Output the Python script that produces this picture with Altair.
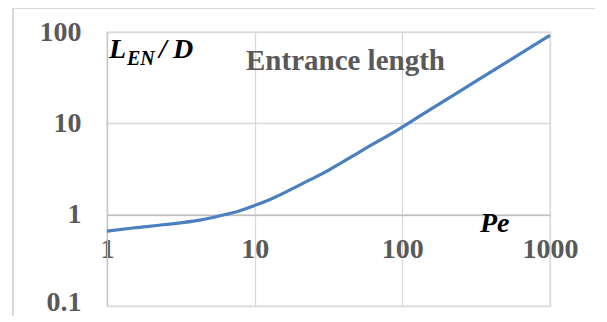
import altair as alt
import pandas as pd

# Data
pe_values = [1, 1.5, 2.5, 4.25, 5.8, 7.1, 9.7, 12.6, 21.2, 32, 54, 100, 130, 300, 1000]
len_values = [0.66, 0.715, 0.78, 0.87, 0.97, 1.05, 1.24, 1.46, 2.2, 3.1, 5.1, 9.1, 11.9, 27.5, 92]
x_ticks = [1, 10, 100, 1000]
y_ticks = [0.1, 1, 10, 100]

W, H = 443, 274
FONT = "Liberation Serif"
GRAY = "#595959"

df = pd.DataFrame({"Pe": pe_values, "L": len_values})
one = pd.DataFrame({"k": [0]})

x_enc = alt.X(
    "Pe:Q",
    scale=alt.Scale(type="log", domain=[1, 1000], nice=False),
    axis=alt.Axis(
        values=x_ticks, format="~g", title=None, offset=-H / 3,
        grid=True, gridColor="#d9d9d9", gridWidth=1.3,
        domainColor="#bfbfbf", domainWidth=1.5, ticks=False,
        labelFont=FONT, labelFontWeight="bold", labelFontSize=28,
        labelColor=GRAY, labelPadding=21, labelFlush=False,
    ),
)
y_enc = alt.Y(
    "L:Q",
    scale=alt.Scale(type="log", domain=[0.1, 100], nice=False),
    axis=alt.Axis(
        values=y_ticks, format="~g", title=None,
        grid=True, gridColor="#d9d9d9", gridWidth=1.3,
        domainColor="#c8c8c8", domainWidth=1.3, ticks=False,
        labelFont=FONT, labelFontWeight="bold", labelFontSize=28,
        labelColor=GRAY, labelPadding=26, labelFlush=False,
        labelOffset={"condition": {"test": "datum.value < 0.5", "value": -4}, "value": 0},
    ),
)

line = alt.Chart(df).mark_line(
    color="#4a7fc0", strokeWidth=3.2, interpolate="monotone"
).encode(x=x_enc, y=y_enc)

frame_v = alt.Chart(one).mark_rule(color="#d9d9d9", strokeWidth=2).encode(
    x=alt.value(-94), y=alt.value(-24), y2=alt.value(400)
)
frame_h = alt.Chart(one).mark_rule(color="#d9d9d9", strokeWidth=2).encode(
    x=alt.value(-94), x2=alt.value(700), y=alt.value(-24)
)


def label(text, x, y, size, color="black", style="italic", weight="bold"):
    return alt.Chart(one).mark_text(
        text=text, font=FONT, fontSize=size, fontWeight=weight,
        fontStyle=style, color=color, align="left", baseline="alphabetic",
    ).encode(x=alt.value(x), y=alt.value(y))


texts = [
    label("Entrance length", 139, 38, 29, color=GRAY, style="normal"),
    label("L", 2, 26, 28),
    label("EN", 20, 33, 20),
    label("/", 52, 26, 28),
    label("D", 66, 26, 28),
    label("Pe", 373, 200, 28),
]

chart = alt.layer(frame_v, frame_h, line, *texts).properties(
    width=W, height=H,
    autosize=alt.AutoSizeParams(type="none"),
    padding={"left": 99, "top": 24, "right": 45, "bottom": 10},
    background="white",
).configure_view(stroke="#d9d9d9", strokeWidth=1.3)

chart.save("out.html", embed_options={"renderer": "svg", "actions": False})
